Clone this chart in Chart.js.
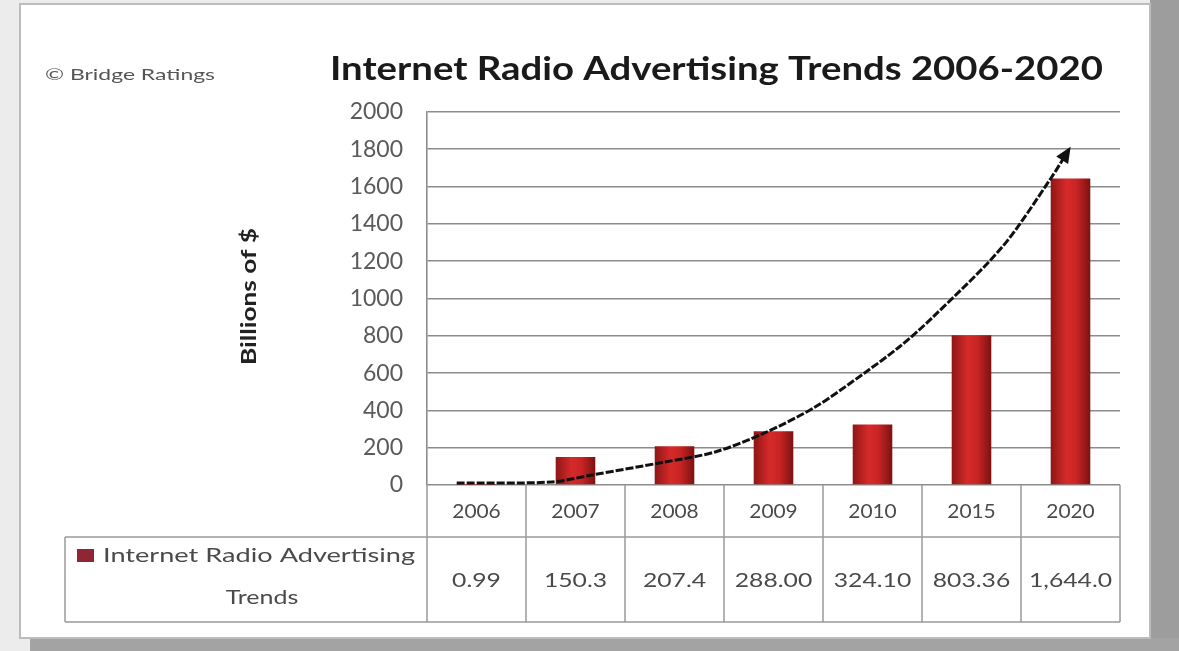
<!DOCTYPE html>
<html>
<head>
<meta charset="utf-8">
<script src="https://cdn.jsdelivr.net/npm/chart.js@4/dist/chart.umd.min.js"></script>
<style>
  body { margin: 0; background: #ececec; width: 1179px; height: 651px; overflow: hidden; position: relative; }
  #shadowRight { position: absolute; left: 1150px; top: 0; width: 29px; height: 651px; background: #9d9d9d; }
  #shadowBottom { position: absolute; left: 30px; top: 638px; width: 1149px; height: 13px; background: #a3a3a3; }
  #card { position: absolute; left: 19px; top: 3px; width: 1128px; height: 632px; background: #fff; border: 2px solid #bcbcbc; }
  #chart { position: absolute; left: 0; top: 0; }
</style>
</head>
<body>
<div id="shadowRight"></div>
<div id="shadowBottom"></div>
<div id="card"></div>
<canvas id="chart" width="1179" height="651"></canvas>
<script>
// years and spending (billions of $)
const years = ["2006", "2007", "2008", "2009", "2010", "2015", "2020"];
const spend = [0.99, 150.3, 207.4, 288.00, 324.10, 803.36, 1644.0];
const spendLabels = ["0.99", "150.3", "207.4", "288.00", "324.10", "803.36", "1,644.0"];
const yTicks = [0, 200, 400, 600, 800, 1000, 1200, 1400, 1600, 1800, 2000];

// hand-drawn trend arrow, in (category index, value) units
const trendX = [-0.2, 0.76, 1.17, 1.9, 2.41, 2.91, 3.42, 3.92, 4.27, 4.6, 5.31, 5.81, 5.98];
const trendY = [11, 16, 54, 123, 177, 279, 418, 601, 740, 895, 1276, 1651, 1796];

const seriesName = "Internet Radio Advertising Trends";
const FONT = "Lato, 'Open Sans', sans-serif";
const BAR_PCT = 0.4;

function barFill(context) {
  const chart = context.chart;
  const xs = chart.scales.x;
  if (!chart.chartArea || !xs) return "#b82222";
  const c = xs.getPixelForValue(context.dataIndex);
  const half = (xs.getPixelForValue(1) - xs.getPixelForValue(0)) * BAR_PCT / 2;
  const g = chart.ctx.createLinearGradient(c - half, 0, c + half, 0);
  g.addColorStop(0, "#8e1616");
  g.addColorStop(0.4, "#d62a2a");
  g.addColorStop(0.65, "#c92424");
  g.addColorStop(1, "#7c1111");
  return g;
}

// text squeezed/stretched horizontally by sx
function stretchText(ctx, text, x, y, sx) {
  ctx.save();
  ctx.translate(x, y);
  ctx.scale(sx, 1);
  ctx.fillText(text, 0, 0);
  ctx.restore();
}

// text stretched to fill a given width
function fitText(ctx, text, x, y, width) {
  stretchText(ctx, text, x, y, width / ctx.measureText(text).width);
}

// arrow head at the end of the trend line
const arrowHead = {
  id: "arrowHead",
  afterDatasetsDraw(chart) {
    const pts = chart.getDatasetMeta(1).data;
    const a = pts[pts.length - 2], b = pts[pts.length - 1];
    const ang = Math.atan2(b.y - a.y, b.x - a.x);
    const ctx = chart.ctx;
    ctx.save();
    ctx.translate(b.x, b.y);
    ctx.rotate(ang);
    ctx.fillStyle = "#111";
    ctx.beginPath();
    ctx.moveTo(4, 0);
    ctx.lineTo(-12, -7);
    ctx.lineTo(-12, 7);
    ctx.closePath();
    ctx.fill();
    ctx.restore();
  }
};

// title, credit, axis title and the data table under the plot
const decorations = {
  id: "decorations",
  afterDraw(chart) {
    const ctx = chart.ctx;
    const xs = chart.scales.x;
    const area = chart.chartArea;
    const step = xs.getPixelForValue(1) - xs.getPixelForValue(0);
    const left = area.left, right = area.right;
    const row1 = area.bottom, row2 = area.bottom + 52, row3 = area.bottom + 137;
    const legendLeft = 65;

    ctx.save();
    ctx.textBaseline = "alphabetic";
    ctx.textAlign = "left";
    ctx.fillStyle = "#1a1a1a";
    ctx.font = "bold 32px " + FONT;
    fitText(ctx, "Internet Radio Advertising Trends 2006-2020", 330, 80, 773);

    ctx.fillStyle = "#555";
    ctx.font = "15px " + FONT;
    fitText(ctx, "\u00A9 Bridge Ratings", 45, 80, 170);

    // vertical axis title
    ctx.save();
    ctx.translate(256, 365);
    ctx.rotate(-Math.PI / 2);
    ctx.fillStyle = "#222";
    ctx.font = "bold 20px " + FONT;
    fitText(ctx, "Billions of $", 0, 0, 137);
    ctx.restore();

    // table grid
    ctx.strokeStyle = "#9a9a9a";
    ctx.lineWidth = 1.5;
    ctx.beginPath();
    ctx.moveTo(legendLeft, row2); ctx.lineTo(right, row2);
    ctx.moveTo(legendLeft, row3); ctx.lineTo(right, row3);
    ctx.moveTo(legendLeft, row2); ctx.lineTo(legendLeft, row3);
    for (let i = 0; i <= years.length; i++) {
      const x = left + step * i;
      ctx.moveTo(x, row1); ctx.lineTo(x, row3);
    }
    ctx.stroke();

    ctx.fillStyle = "#4a4a4a";
    ctx.textAlign = "center";
    ctx.textBaseline = "middle";
    ctx.font = "19px " + FONT;
    years.forEach((y, i) => stretchText(ctx, y, xs.getPixelForValue(i), (row1 + row2) / 2 + 1, 1.1));
    spendLabels.forEach((v, i) => stretchText(ctx, v, xs.getPixelForValue(i), (row2 + row3) / 2 + 1, 1.3));

    // legend key inside the table
    ctx.font = "20px " + FONT;
    const line1 = "Internet Radio Advertising";
    const keyText = 312;
    const cx = (legendLeft + left) / 2;
    const sx = cx - (keyText + 26) / 2;
    ctx.fillStyle = "#8e2633";
    ctx.fillRect(sx, row2 + 12, 17, 13);
    ctx.fillStyle = "#4a4a4a";
    ctx.textAlign = "left";
    fitText(ctx, line1, sx + 26, row2 + 19, keyText);
    ctx.textAlign = "center";
    stretchText(ctx, "Trends", cx + 16, row2 + 61, 1.25);
    ctx.restore();
  }
};

new Chart(document.getElementById("chart"), {
  data: {
    labels: years,
    datasets: [
      {
        type: "bar",
        label: seriesName,
        data: spend,
        backgroundColor: barFill,
        barPercentage: BAR_PCT,
        categoryPercentage: 1,
        grouped: false,
        order: 1
      },
      {
        type: "line",
        label: "trend",
        xAxisID: "xt",
        data: trendX.map((x, i) => ({ x: x, y: trendY[i] })),
        borderColor: "#111",
        borderWidth: 3,
        borderDash: [8, 2],
        pointRadius: 0,
        tension: 0.3,
        fill: false,
        order: 0
      }
    ]
  },
  options: {
    responsive: false,
    animation: false,
    devicePixelRatio: 1,
    layout: { padding: { top: 112, right: 59, bottom: 166, left: 236 } },
    plugins: { legend: { display: false }, title: { display: false }, tooltip: { enabled: false } },
    scales: {
      x: { type: "category", display: false, offset: true },
      xt: { type: "linear", display: false, min: -0.5, max: 6.5 },
      y: {
        min: 0,
        max: 2000,
        afterBuildTicks(scale) { scale.ticks = yTicks.map(v => ({ value: v })); },
        afterFit(scale) { scale.width = 191; },
        ticks: {
          color: "#5a5a5a",
          font: { family: FONT, size: 23 },
          padding: 24,
          callback: v => String(v)
        },
        grid: { color: "#8c8c8c", lineWidth: 1.6, drawTicks: false },
        border: { display: true, color: "#8c8c8c", width: 1.6 }
      }
    }
  },
  plugins: [arrowHead, decorations]
});
</script>
</body>
</html>
